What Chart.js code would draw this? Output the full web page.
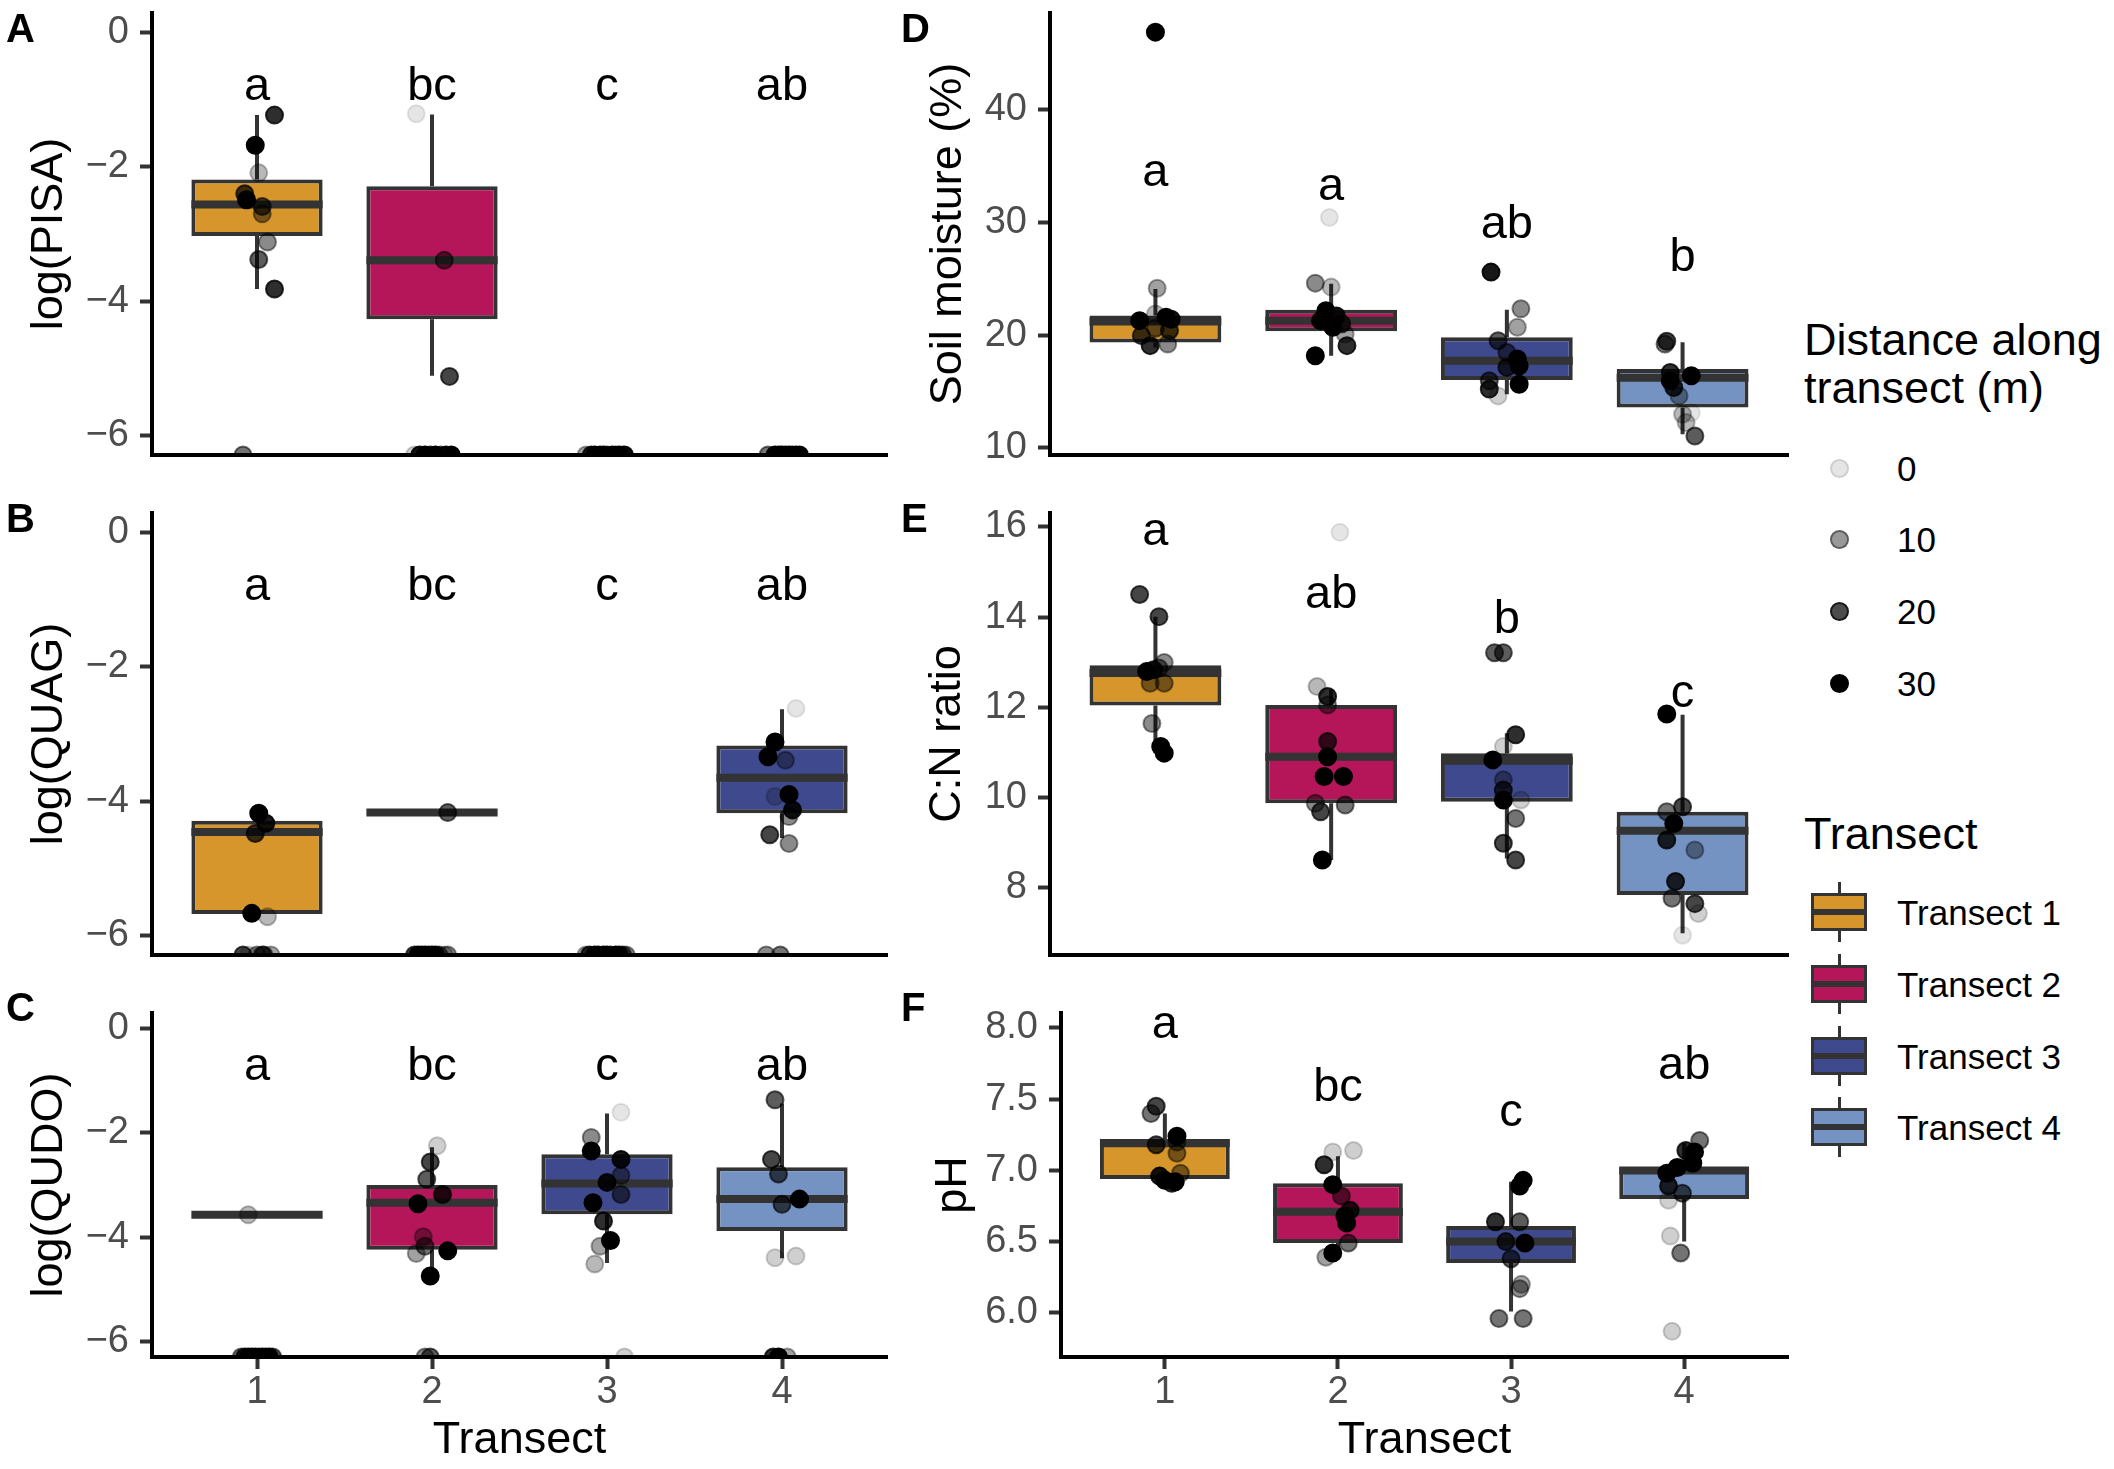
<!DOCTYPE html>
<html>
<head>
<meta charset="utf-8">
<script src="https://cdn.jsdelivr.net/npm/chart.js@4.4.1/dist/chart.umd.min.js"></script>
<style>
html,body{margin:0;padding:0;background:#fff;width:2114px;height:1469px;overflow:hidden;
  font-family:"Liberation Sans",Arial,Helvetica,sans-serif;}
.pane{position:absolute;}
.pane canvas{display:block;}
.tag{position:absolute;font-weight:bold;font-size:40px;line-height:40px;color:#000;}
.lt{position:absolute;font-size:45px;line-height:45px;color:#000;white-space:nowrap;}
.ll{position:absolute;font-size:35px;line-height:35px;color:#000;white-space:nowrap;}
.dot{position:absolute;width:15px;height:15px;border-radius:50%;box-sizing:content-box;}
.wh{position:absolute;width:3px;height:60px;background:#333;}
.kb{position:absolute;width:56px;height:38px;box-sizing:border-box;border:3px solid #333;}
.km{position:absolute;left:0;right:0;top:13px;height:6px;background:#333;}
</style>
</head>
<body>
<div class="pane" style="left:0;top:0;"><canvas id="cA" width="900" height="470" style="width:900px;height:470px"></canvas></div>
<div class="pane" style="left:0;top:490px;"><canvas id="cB" width="900" height="480" style="width:900px;height:480px"></canvas></div>
<div class="pane" style="left:0;top:990px;"><canvas id="cC" width="900" height="479" style="width:900px;height:479px"></canvas></div>
<div class="pane" style="left:890px;top:0;"><canvas id="cD" width="910" height="470" style="width:910px;height:470px"></canvas></div>
<div class="pane" style="left:890px;top:490px;"><canvas id="cE" width="910" height="480" style="width:910px;height:480px"></canvas></div>
<div class="pane" style="left:890px;top:990px;"><canvas id="cF" width="910" height="479" style="width:910px;height:479px"></canvas></div>

<div class="tag" style="left:6px;top:8px;">A</div>
<div class="tag" style="left:6px;top:498px;">B</div>
<div class="tag" style="left:6px;top:987px;">C</div>
<div class="tag" style="left:901px;top:8px;">D</div>
<div class="tag" style="left:901px;top:498px;">E</div>
<div class="tag" style="left:901px;top:987px;">F</div>

<div id="legend"></div>

<script>
// ---------------- data ----------------
const transects = ['1', '2', '3', '4'];
const transectNames = ['Transect 1', 'Transect 2', 'Transect 3', 'Transect 4'];
const transectColors = ['#D6962B', '#B5165A', '#3E4A8D', '#7493C3'];
const distanceKeys = [0, 10, 20, 30];

const logTicks = [-6, -4, -2, 0];
const moistTicks = [10, 20, 30, 40];
const cnTicks = [8, 10, 12, 14, 16];
const phTicks = [6.0, 6.5, 7.0, 7.5, 8.0];

// box stats per transect: [lower whisker, Q1, median, Q3, upper whisker]
const pisaBox = [[-3.82, -3.03, -2.56, -2.19, -1.23], [-5.11, -4.27, -3.39, -2.29, -1.22], null, null];
const quagBox = [[-5.72, -5.68, -4.46, -4.29, -4.18], [-4.17, -4.17, -4.17, -4.17, -4.17], null, [-4.55, -4.18, -3.65, -3.17, -2.63]];
const qudoBox = [[-3.57, -3.57, -3.57, -3.57, -3.57], [-4.74, -4.24, -3.34, -3.00, -2.28], [-4.49, -3.56, -2.97, -2.41, -1.63], [-4.40, -3.88, -3.27, -2.66, -1.44]];
const moistBox = [[18.9, 19.35, 21.2, 21.73, 24.1], [18.16, 20.33, 21.28, 22.24, 24.56], [14.75, 16.0, 17.72, 19.8, 22.24], [11.19, 13.57, 16.2, 16.98, 19.36]];
const cnBox = [[10.98, 12.04, 12.76, 12.93, 14.01], [8.61, 9.87, 10.90, 12.05, 12.39], [8.64, 9.90, 10.81, 10.98, 11.42], [6.98, 7.83, 9.26, 9.68, 11.83]];
const phBox = [[6.91, 6.94, 7.19, 7.22, 7.40], [6.39, 6.49, 6.71, 6.91, 7.10], [6.01, 6.35, 6.50, 6.61, 6.92], [6.50, 6.80, 7.00, 7.02, 7.19]];

// fill colour index used for each box (panel B only has three boxes, coloured with the first three colours)
const fullFill = [0, 1, 2, 3];
const quagFill = [0, 1, null, 2];

// jittered points: [transect position, value, distance along transect (m)]
const pisaPts = [
  [1.10,-1.23,24],[0.99,-1.68,30],[1.01,-2.09,6],[0.93,-2.40,21],[0.94,-2.49,30],[1.03,-2.59,18],[1.03,-2.70,12],[1.06,-3.12,12],[1.01,-3.38,18],[1.10,-3.82,24],[0.92,-6.29,15],
  [1.91,-1.21,0],[2.07,-3.39,15],[2.10,-5.12,21],[1.90,-6.29,3],[1.93,-6.29,27],[1.96,-6.29,30],[1.99,-6.29,24],[2.02,-6.29,30],[2.05,-6.29,18],[2.08,-6.29,27],[2.11,-6.29,30],
  [2.88,-6.29,9],[2.91,-6.29,24],[2.93,-6.29,30],[2.96,-6.29,27],[2.98,-6.29,30],[3.00,-6.29,18],[3.03,-6.29,30],[3.05,-6.29,21],[3.07,-6.29,30],[3.09,-6.29,12],[3.10,-6.29,27],
  [3.92,-6.29,15],[3.96,-6.29,30],[3.98,-6.29,24],[4.00,-6.29,30],[4.02,-6.29,27],[4.04,-6.29,30],[4.06,-6.29,21],[4.08,-6.29,30],[4.10,-6.29,30],[3.99,-6.29,12],[4.05,-6.29,6]
];
const quagPts = [
  [1.01,-4.18,30],[1.05,-4.33,27],[0.99,-4.48,21],[0.97,-5.67,30],[1.06,-5.72,6],[0.92,-6.29,21],[1.03,-6.29,18],[1.08,-6.29,9],[0.95,-6.29,3],[1.00,-6.29,12],[1.04,-6.29,15],
  [2.09,-4.17,18],[1.90,-6.29,21],[1.92,-6.29,30],[1.94,-6.29,27],[1.96,-6.29,30],[1.98,-6.29,24],[2.00,-6.29,30],[2.02,-6.29,27],[2.04,-6.29,15],[2.07,-6.29,6],[2.09,-6.29,12],
  [2.88,-6.29,9],[2.90,-6.29,24],[2.93,-6.29,30],[2.95,-6.29,27],[2.98,-6.29,30],[3.00,-6.29,30],[3.02,-6.29,21],[3.05,-6.29,30],[3.07,-6.29,27],[3.09,-6.29,18],[3.11,-6.29,12],
  [4.08,-2.62,0],[3.96,-3.12,30],[3.92,-3.34,30],[4.02,-3.39,9],[3.96,-3.93,3],[4.04,-3.90,30],[4.06,-4.13,27],[4.04,-4.23,12],[3.93,-4.50,21],[4.04,-4.63,12],[3.91,-6.29,12],[3.99,-6.29,15]
];
const qudoPts = [
  [0.95,-3.57,6],[0.91,-6.29,15],[0.93,-6.29,24],[0.95,-6.29,27],[0.97,-6.29,30],[0.99,-6.29,30],[1.01,-6.29,21],[1.03,-6.29,30],[1.05,-6.29,27],[1.07,-6.29,30],[1.09,-6.29,18],
  [2.03,-2.25,3],[1.99,-2.56,21],[1.97,-2.89,18],[2.06,-3.18,24],[1.92,-3.36,30],[1.95,-3.99,9],[1.96,-4.17,15],[1.91,-4.31,9],[2.09,-4.26,30],[1.99,-4.74,30],[1.96,-6.29,12],[1.99,-6.29,18],
  [3.08,-1.61,0],[2.91,-2.09,12],[2.91,-2.35,30],[3.08,-2.51,27],[3.08,-2.82,12],[3.00,-2.95,27],[3.08,-3.18,15],[2.92,-3.34,30],[2.98,-3.69,24],[3.02,-4.06,30],[2.96,-4.17,9],[2.93,-4.51,6],[3.10,-6.29,3],
  [3.96,-1.37,18],[3.94,-2.51,21],[3.98,-2.79,18],[4.10,-3.27,30],[4.00,-3.37,18],[3.96,-4.39,3],[4.08,-4.36,3],[3.98,-6.29,30],[4.03,-6.29,9],[3.95,-6.29,24]
];
const moistPts = [
  [1.00,46.9,30],[1.01,24.16,9],[1.00,21.88,6],[0.91,21.28,30],[1.06,21.58,30],[1.09,21.4,27],[0.92,19.95,21],[1.08,20.4,21],[0.97,19.06,24],[1.07,19.2,12],[1.00,20.6,15],
  [1.91,24.61,12],[2.00,24.26,6],[1.99,30.44,0],[1.97,22.17,30],[1.94,21.28,30],[2.01,20.69,30],[2.08,20.1,9],[2.09,19.06,24],[1.91,18.16,30],[2.03,21.7,27],[2.06,21.0,21],
  [2.91,25.59,27],[3.08,22.33,12],[3.06,20.69,9],[2.95,19.5,18],[3.00,18.46,15],[3.06,17.87,30],[3.07,17.27,30],[3.00,17.13,21],[3.07,15.64,30],[2.90,15.94,18],[2.90,15.2,24],[2.95,14.6,3],
  [3.91,19.45,21],[3.90,19.2,15],[3.93,15.94,30],[4.05,16.39,30],[3.95,15.35,24],[3.93,16.68,24],[4.00,12.97,6],[4.02,12.23,6],[4.05,13.1,0],[4.07,11.04,18],[3.98,14.6,9]
];
const cnPts = [
  [0.91,14.50,21],[1.02,14.01,21],[1.05,12.99,12],[0.95,12.79,30],[0.97,12.53,12],[1.05,12.53,12],[0.98,11.64,12],[1.03,11.13,30],[1.05,10.98,30],[1.02,12.87,15],[0.99,12.83,24],
  [2.05,15.88,0],[1.92,12.46,6],[1.98,12.24,24],[1.98,12.05,12],[1.98,11.24,21],[1.98,10.9,30],[1.96,10.46,30],[2.07,10.46,30],[1.91,9.87,12],[1.94,9.68,21],[2.08,9.83,15],[1.95,8.61,30],
  [2.93,13.21,18],[2.98,13.21,18],[3.05,11.39,24],[2.98,11.13,3],[2.92,10.83,30],[2.98,10.39,9],[2.98,10.16,21],[2.98,9.94,30],[3.08,9.94,3],[3.05,9.53,15],[2.98,8.98,21],[3.05,8.61,21],
  [3.91,11.85,30],[4.00,9.79,21],[3.91,9.68,15],[3.95,9.42,30],[3.91,9.05,24],[4.07,8.83,9],[3.96,8.13,24],[3.94,7.76,15],[4.07,7.64,21],[4.09,7.42,3],[4.00,6.94,0]
];
const phPts = [
  [0.92,7.40,15],[0.95,7.45,21],[1.07,7.24,30],[0.95,7.18,21],[1.07,7.20,12],[1.07,7.12,12],[1.09,6.98,12],[1.00,6.93,30],[1.06,6.92,30],[0.97,6.96,27],[1.04,6.91,24],
  [1.97,7.13,3],[2.09,7.14,3],[1.92,7.04,24],[1.97,6.90,30],[2.02,6.82,15],[2.07,6.72,24],[2.05,6.63,30],[2.06,6.49,15],[1.97,6.42,30],[1.93,6.39,9],[2.04,6.68,27],
  [3.07,6.93,30],[3.05,6.89,30],[2.91,6.64,24],[3.05,6.64,18],[2.97,6.50,21],[3.08,6.49,30],[3.00,6.38,18],[3.06,6.20,9],[3.05,6.17,12],[2.93,5.96,15],[3.07,5.96,15],
  [4.09,7.21,15],[4.01,7.14,24],[4.06,7.13,30],[4.05,7.05,30],[3.96,7.02,30],[3.90,6.98,30],[3.91,6.89,24],[3.99,6.84,18],[3.91,6.79,3],[3.92,6.54,3],[3.98,6.42,15],[3.93,5.87,3]
];

// significance letters and their value positions
const pisaLetters = ['a', 'bc', 'c', 'ab'];
const quagLetters = ['a', 'bc', 'c', 'ab'];
const qudoLetters = ['a', 'bc', 'c', 'ab'];
const moistLetters = ['a', 'a', 'ab', 'b'];
const cnLetters = ['a', 'ab', 'b', 'c'];
const phLetters = ['a', 'bc', 'c', 'ab'];
const logLetterY = [-1.0, -1.0, -1.0, -1.0];
const moistLetterY = [33.2, 32.0, 28.6, 25.7];
const cnLetterY = [15.6, 14.2, 13.65, 12.0];
const phLetterY = [7.93, 7.49, 7.31, 7.64];

// ---------------- drawing ----------------
const FONT = '"Liberation Sans", Arial, Helvetica, sans-serif';
Chart.defaults.font.family = FONT;
Chart.defaults.color = '#000';

const alphaOf = d => 0.1 + 0.9 * d / 30;
const ptColor = d => 'rgba(0,0,0,' + alphaOf(d).toFixed(3) + ')';
const minusFmt = v => (v < 0 ? '\u2212' + Math.abs(v) : String(v));

function extrasPlugin(box, letters, letterY) {
  return {
    id: 'boxExtras',
    beforeDatasetsDraw(chart) {
      const {ctx, scales: {x, y}} = chart;
      ctx.save();
      ctx.strokeStyle = '#333333';
      ctx.lineWidth = 4;
      box.forEach((s, i) => {
        if (!s) return;
        const px = x.getPixelForValue(i + 1);
        ctx.beginPath();
        ctx.moveTo(px, y.getPixelForValue(s[3]));
        ctx.lineTo(px, y.getPixelForValue(s[4]));
        ctx.moveTo(px, y.getPixelForValue(s[1]));
        ctx.lineTo(px, y.getPixelForValue(s[0]));
        ctx.stroke();
      });
      ctx.restore();
    },
    afterDatasetDraw(chart, args) {
      if (args.meta.type !== 'bar') return;
      const {ctx, scales: {y}} = chart;
      const raw = chart.data.datasets[args.index].data;
      ctx.save();
      ctx.strokeStyle = '#333333';
      ctx.lineWidth = 8;
      args.meta.data.forEach((bar, j) => {
        const p = bar.getProps(['x', 'width'], true);
        const my = y.getPixelForValue(raw[j].med);
        ctx.beginPath();
        ctx.moveTo(p.x - p.width / 2, my);
        ctx.lineTo(p.x + p.width / 2, my);
        ctx.stroke();
      });
      ctx.restore();
    },
    afterDatasetsDraw(chart) {
      const {ctx, scales: {x, y}} = chart;
      ctx.save();
      ctx.font = '47px ' + FONT;
      ctx.fillStyle = '#000';
      ctx.textAlign = 'center';
      ctx.textBaseline = 'alphabetic';
      letters.forEach((t, i) => ctx.fillText(t, x.getPixelForValue(i + 1), y.getPixelForValue(letterY[i])));
      ctx.restore();
    }
  };
}

function makePanel(id, p) {
  const boxData = [];
  const boxColors = [];
  p.box.forEach((s, i) => {
    if (!s) return;
    boxData.push({x: i + 1, y: [s[1], s[3]], med: s[2]});
    boxColors.push(transectColors[p.fill[i]]);
  });
  const colors = p.pts.map(q => ptColor(q[2]));
  const xAxis = {
    type: 'linear', min: 0.4, max: 4.6, offset: false, z: 1,
    afterBuildTicks: s => { s.ticks = transects.map((t, i) => ({value: i + 1})); },
    grid: {display: true, drawOnChartArea: false, drawTicks: p.bottom, tickLength: 12, tickWidth: 4, tickColor: '#333333', offset: false},
    border: {display: true, color: '#000', width: 4},
    ticks: {display: p.bottom, font: {size: 38}, color: '#4D4D4D', padding: 1, maxRotation: 0, autoSkip: false,
            callback: v => transects[Math.round(v) - 1]},
    title: {display: p.bottom, text: 'Transect', font: {size: 45}, color: '#000', padding: {top: 0, bottom: 1}},
    afterFit: s => { s.height = p.bottom ? 112 : 15; s.paddingLeft = 0; s.paddingRight = 0; }
  };
  const yAxis = {
    type: 'linear', min: p.ymin, max: p.ymax, z: 1,
    afterBuildTicks: s => { s.ticks = p.yticks.map(v => ({value: v})); },
    grid: {display: true, drawOnChartArea: false, drawTicks: true, tickLength: 12, tickWidth: 4, tickColor: '#333333'},
    border: {display: true, color: '#000', width: 4},
    ticks: {font: {size: 38}, color: '#4D4D4D', padding: 11, callback: p.yfmt},
    title: {display: true, text: p.ytitle, font: {size: 45}, color: '#000', padding: {top: p.titlePad, bottom: 0}},
    afterFit: s => { s.width = p.yWidth; s.paddingTop = 0; s.paddingBottom = 0; }
  };
  return new Chart(document.getElementById(id), {
    type: 'scatter',
    data: {
      datasets: [
        {
          type: 'scatter', label: 'Distance along transect (m)',
          data: p.pts.map(q => ({x: q[0], y: q[1]})),
          backgroundColor: colors, borderColor: colors,
          pointRadius: 8.5, pointBorderWidth: 2, pointHoverRadius: 8.5, clip: 0
        },
        {
          type: 'bar', label: 'Transect',
          data: boxData,
          backgroundColor: boxColors, borderColor: '#333333', borderWidth: 4, borderSkipped: false,
          categoryPercentage: 1, barPercentage: 0.75
        }
      ]
    },
    options: {
      responsive: false, animation: false, devicePixelRatio: 1,
      layout: {autoPadding: false, padding: {top: p.padTop, right: p.padRight, bottom: 0, left: 0}},
      plugins: {legend: {display: false}, tooltip: {enabled: false}},
      events: [],
      scales: {x: xAxis, y: yAxis}
    },
    plugins: [extrasPlugin(p.box, p.letters, p.letterY)]
  });
}

const LOGMIN = -6.29, LOGMAX = 0.29;
makePanel('cA', {box: pisaBox, fill: fullFill, pts: pisaPts, letters: pisaLetters, letterY: logLetterY, ymin: LOGMIN, ymax: LOGMAX,
  yticks: logTicks, yfmt: minusFmt, ytitle: 'log(PISA)', yWidth: 152, titlePad: 23, padTop: 13, padRight: 13, bottom: false});
makePanel('cB', {box: quagBox, fill: quagFill, pts: quagPts, letters: quagLetters, letterY: logLetterY, ymin: LOGMIN, ymax: LOGMAX,
  yticks: logTicks, yfmt: minusFmt, ytitle: 'log(QUAG)', yWidth: 152, titlePad: 23, padTop: 23, padRight: 13, bottom: false});
makePanel('cC', {box: qudoBox, fill: fullFill, pts: qudoPts, letters: qudoLetters, letterY: logLetterY, ymin: LOGMIN, ymax: LOGMAX,
  yticks: logTicks, yfmt: minusFmt, ytitle: 'log(QUDO)', yWidth: 152, titlePad: 23, padTop: 23, padRight: 13, bottom: true});
makePanel('cD', {box: moistBox, fill: fullFill, pts: moistPts, letters: moistLetters, letterY: moistLetterY, ymin: 9.35, ymax: 48.6,
  yticks: moistTicks, yfmt: v => String(v), ytitle: 'Soil moisture (%)', yWidth: 160, titlePad: 32, padTop: 13, padRight: 12, bottom: false});
makePanel('cE', {box: cnBox, fill: fullFill, pts: cnPts, letters: cnLetters, letterY: cnLetterY, ymin: 6.50, ymax: 16.31,
  yticks: cnTicks, yfmt: v => String(v), ytitle: 'C:N ratio', yWidth: 160, titlePad: 31, padTop: 23, padRight: 12, bottom: false});
makePanel('cF', {box: phBox, fill: fullFill, pts: phPts, letters: phLetters, letterY: phLetterY, ymin: 5.69, ymax: 8.105,
  yticks: phTicks, yfmt: v => Number(v).toFixed(1), ytitle: 'pH', yWidth: 171, titlePad: 37, padTop: 23, padRight: 12, bottom: true});

// ---------------- legends ----------------
(function buildLegend() {
  const L = document.getElementById('legend');
  let html = '';
  html += '<div class="lt" style="left:1804px;top:317px;">Distance along</div>';
  html += '<div class="lt" style="left:1804px;top:365px;">transect (m)</div>';
  const rowY = [468, 539, 611, 683];
  distanceKeys.forEach((d, i) => {
    const c = ptColor(d);
    html += '<div class="dot" style="left:' + (1839 - 9.5) + 'px;top:' + (rowY[i] - 9.5) + 'px;background:' + c + ';border:2px solid ' + c + ';"></div>';
    html += '<div class="ll" style="left:1897px;top:' + (rowY[i] - 17.1) + 'px;">' + d + '</div>';
  });
  html += '<div class="lt" style="left:1804px;top:811px;">Transect</div>';
  const keyY = [912, 984, 1056, 1127];
  transectNames.forEach((n, i) => {
    const cy = keyY[i];
    html += '<div class="wh" style="left:' + (1839 - 1.5) + 'px;top:' + (cy - 30) + 'px;"></div>';
    html += '<div class="kb" style="left:1811px;top:' + (cy - 19) + 'px;background:' + transectColors[i] + ';"><div class="km"></div></div>';
    html += '<div class="ll" style="left:1897px;top:' + (cy - 17.1) + 'px;">' + n + '</div>';
  });
  L.innerHTML = html;
})();
</script>
</body>
</html>
